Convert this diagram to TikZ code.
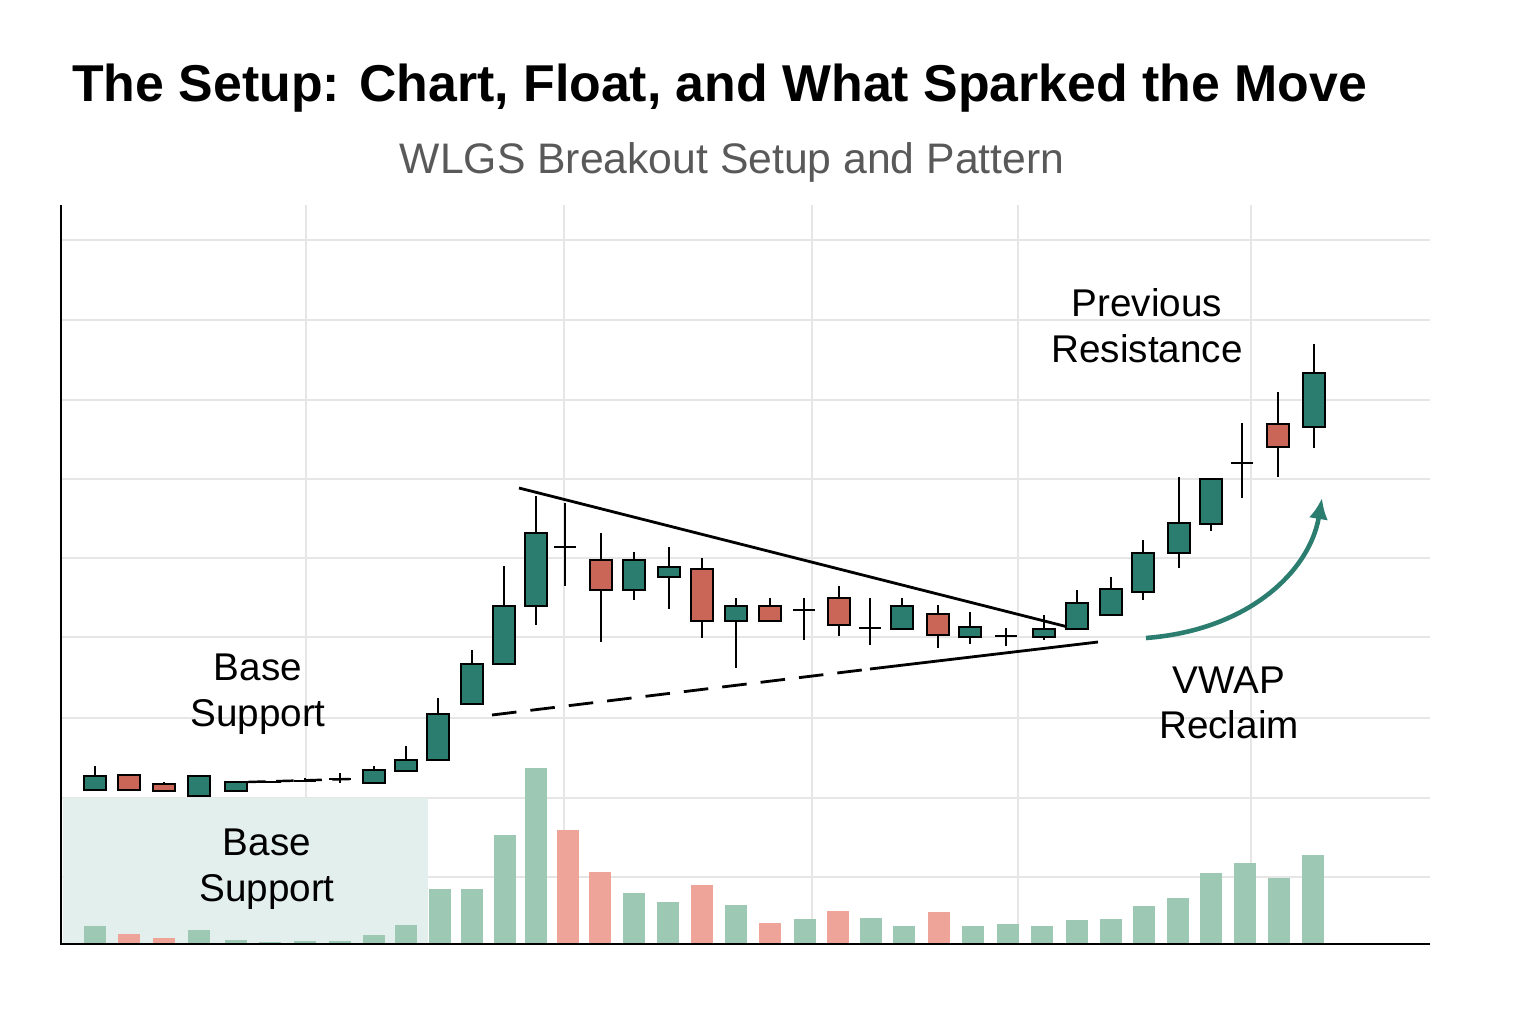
\documentclass[tikz,border=0pt]{standalone}
\usepackage{fontspec}
\setmainfont{Liberation Sans}
\usetikzlibrary{arrows.meta}
\definecolor{upc}{HTML}{2A7D6F}
\definecolor{dnc}{HTML}{C96657}
\definecolor{volup}{HTML}{9DC8B4}
\definecolor{voldn}{HTML}{EFA49A}
\definecolor{basefill}{HTML}{E3EFEC}
\definecolor{gridc}{HTML}{E6E6E6}
\tikzset{
  grid line/.style={gridc, line width=0.6pt},
  candle/.style={draw=black, line width=1.4pt},
  lbl/.style={font=\fontsize{22}{26}\selectfont, align=center},
}
\begin{document}
\begin{tikzpicture}[x=0.02cm, y=-0.02cm, >=latex]
\useasboundingbox[fill=white] (0,0) rectangle (1536,1024);
% titles
\node[anchor=west, font=\fontsize{29.5}{34}\selectfont\bfseries] (title) at (66,88) {The Setup: Chart, Float, and What Sparked the Move};
\node[font=\fontsize{24.3}{28}\selectfont, text=black!65] (subtitle) at (732,162) {WLGS Breakout Setup and Pattern};
% grid
\foreach \y in {240,320,400,479,558,637,718,798,877}
  \draw[grid line] (61,\y) -- (1430,\y);
\foreach \x in {306,564,812,1018,1251}
  \draw[grid line] (\x,205) -- (\x,944);
% base zone
\fill[basefill] (63,798) rectangle (428,944);
% volume
\foreach \x/\t in {95/926,199/930,236/940,270/942,305/941,340/941,374/935,406/925,440/889,472/889,505/835,536/768,634/893,668/902,736/905,805/919,871/918,904/926,973/926,1008/924,1042/926,1077/920,1111/919,1144/906,1178/898,1211/873,1245/863,1279/878,1313/855}
  \fill[volup] (\x-11,\t) rectangle (\x+11,944);
\foreach \x/\t in {129/934,164/938,568/830,600/872,702/885,770/923,838/911,939/912}
  \fill[voldn] (\x-11,\t) rectangle (\x+11,944);
% axes
\draw[line width=1.2pt] (61,205) -- (61,944) -- (1430,944);
% trend lines
\draw[line width=1.6pt] (519,488) -- (1068,627);
\draw[line width=1.6pt, dashed, dash pattern=on 14pt off 8pt] (492,715) -- (870,669);
\draw[line width=1.6pt] (870,669) -- (1098,642);
\draw[line width=1.4pt, dashed, dash pattern=on 10pt off 6pt] (248,782) -- (350,779);
% candles: x/open/close/high/low
\foreach \x/\o/\c/\h/\l in {95/790/776/766/790,199/796/776/776/796,236/791/782/782/791,374/783/770/766/783,406/771/760/746/771,438/760/714/698/760,472/704/664/650/704,504/664/606/566/664,536/606/533/496/625,634/590/560/552/600,669/577/567/547/609,736/621/606/598/668,902/629/606/598/630,970/637/627/612/644,1044/637/629/615/640,1077/629/603/590/629,1111/615/589/577/615,1143/592/553/540/600,1179/553/523/477/568,1211/524/479/479/531,1314/427/373/344/448}{
  \draw[line width=1.4pt] (\x,\h) -- (\x,\l);
  \draw[candle, fill=upc] (\x-11,\o) rectangle (\x+11,\c);
}
\foreach \x/\o/\c/\h/\l in {129/775/790/775/790,164/784/791/782/791,601/560/590/533/642,702/569/621/558/638,770/606/621/598/622,839/598/625/586/636,938/614/635/605/648,1278/424/447/392/477}{
  \draw[line width=1.4pt] (\x,\h) -- (\x,\l);
  \draw[candle, fill=dnc] (\x-11,\o) rectangle (\x+11,\c);
}
% doji
\foreach \x/\m/\h/\l in {270/782/782/782,305/781/778/782,340/779/773/783,565/547/503/586,804/610/598/640,870/628/598/645,1006/636/628/646,1242/463/423/498}{
  \draw[line width=1.4pt] (\x,\h) -- (\x,\l);
  \draw[line width=1.5pt] (\x-11,\m) -- (\x+11,\m);
}
% arrow
\coordinate (arrA) at (1146,638);
\coordinate (arrB) at (1322,498);
\draw[upc, line width=2.6pt, -{Latex[length=12pt,width=11pt]}] (arrA) .. controls (1250,630) and (1310,570) .. (arrB);
% labels
\node[lbl] (prevres) at (1147,326) {Previous\\Resistance};
\node[lbl] (vwap) at (1229,703) {VWAP\\Reclaim};
\node[lbl] (base1) at (258,694) {Base\\Support};
\node[lbl] (base2) at (267,869) {Base\\Support};
\end{tikzpicture}
\end{document}
